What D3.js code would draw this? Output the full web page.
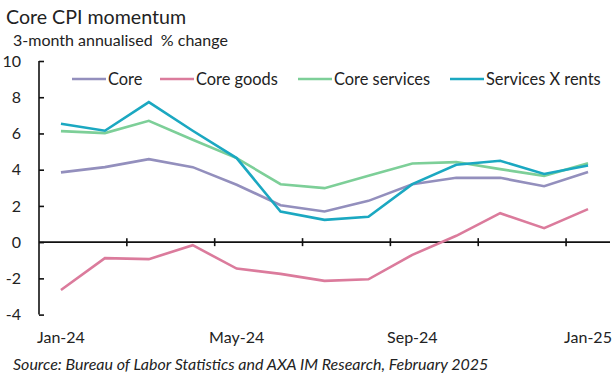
<!DOCTYPE html>
<html>
<head>
<meta charset="utf-8">
<script src="https://cdn.jsdelivr.net/npm/d3@7"></script>
<style>
  body { margin: 0; background: #fff; }
  text { font-family: Lato, "Open Sans", sans-serif; fill: #222; white-space: pre; }
</style>
</head>
<body>
<div id="chart"></div>
<script>
// data
let months = ["Jan-24","Feb-24","Mar-24","Apr-24","May-24","Jun-24","Jul-24","Aug-24","Sep-24","Oct-24","Nov-24","Dec-24","Jan-25"];
let core =         [3.85, 4.14, 4.58, 4.14, 3.17, 2.04, 1.69, 2.28, 3.20, 3.55, 3.55, 3.09, 3.87];
let coreGoods =    [-2.64, -0.88, -0.94, -0.17, -1.46, -1.75, -2.14, -2.05, -0.70, 0.35, 1.60, 0.77, 1.82];
let coreServices = [6.13, 6.02, 6.70, 5.65, 4.64, 3.20, 2.98, 3.66, 4.34, 4.42, 4.03, 3.66, 4.36];
let servXRents =   [6.54, 6.15, 7.73, 6.15, 4.64, 1.69, 1.23, 1.40, 3.20, 4.27, 4.49, 3.76, 4.23];
let seriesNames = ["Core", "Core goods", "Core services", "Services X rents"];
let colors = ["#938fbd", "#db7b9c", "#7dcf98", "#1ba8c1"];
let yTicks = [-4, -2, 0, 2, 4, 6, 8, 10];
let xLabels = ["Jan-24", "May-24", "Sep-24", "Jan-25"];

let width = 615, height = 379;
let margin = { top: 61, right: 5, bottom: 65, left: 39 };

let svg = d3.select("#chart").append("svg")
  .attr("width", width)
  .attr("height", height);

let x = d3.scaleBand().domain(months).range([margin.left, 610]);
let y = d3.scaleLinear().domain([-4, 10]).range([314.6, 61]);

// title
svg.append("text").attr("x", 6).attr("y", 24)
  .style("font-size", "19.6px").text("Core CPI momentum");
svg.append("text").attr("x", 13).attr("y", 46)
  .style("font-size", "16px").text("3-month annualised  % change");

// y axis
let yAxis = svg.append("g")
  .attr("transform", "translate(" + margin.left + ",0)")
  .call(d3.axisRight(y).tickValues(yTicks).tickSize(5).tickFormat(""));
yAxis.select(".domain").attr("d", "M0," + y(-4) + "V" + y(10)).attr("stroke", "#111").attr("stroke-width", 1.6);
yAxis.selectAll(".tick line").attr("stroke", "#111").attr("stroke-width", 1.6);

svg.selectAll(".ylab").data(yTicks).enter().append("text")
  .attr("class", "ylab")
  .attr("x", 21)
  .attr("y", d => y(d))
  .attr("dy", "0.35em")
  .attr("text-anchor", "end")
  .style("font-size", "16px")
  .text(d => d);

// x axis at zero, ticks every two months on band edges
let xg = svg.append("g");
xg.append("line")
  .attr("x1", margin.left).attr("x2", 610)
  .attr("y1", y(0)).attr("y2", y(0))
  .attr("stroke", "#111").attr("stroke-width", 1.6);
xg.selectAll(".xt").data(months.filter((m, i) => i % 2 == 0 && i > 0)).enter().append("line")
  .attr("x1", d => x(d)).attr("x2", d => x(d))
  .attr("y1", y(0) - 4).attr("y2", y(0) + 4)
  .attr("stroke", "#111").attr("stroke-width", 1.6);

svg.selectAll(".xlab").data(xLabels).enter().append("text")
  .attr("x", d => x(d) + x.bandwidth() / 2)
  .attr("y", 343)
  .attr("text-anchor", "middle")
  .style("font-size", "16px")
  .text(d => d);

// lines
let allSeries = [core, coreGoods, coreServices, servXRents];
let line = d3.line()
  .x((d, i) => x(months[i]) + x.bandwidth() / 2)
  .y(d => y(d));

allSeries.forEach((s, k) => {
  svg.append("path")
    .datum(s)
    .attr("fill", "none")
    .attr("stroke", colors[k])
    .attr("stroke-width", 2.6)
    .attr("stroke-linejoin", "miter")
    .attr("d", line);
});

// legend
let legX = [72, 160, 298, 450];
seriesNames.forEach((n, k) => {
  svg.append("line")
    .attr("x1", legX[k]).attr("x2", legX[k] + 34)
    .attr("y1", 79).attr("y2", 79)
    .attr("stroke", colors[k]).attr("stroke-width", 2.6);
  svg.append("text")
    .attr("x", legX[k] + 36).attr("y", 79)
    .attr("dy", "0.35em")
    .style("font-size", "16.4px")
    .text(n);
});

// source
svg.append("text").attr("x", 13).attr("y", 370)
  .style("font-size", "16px").style("font-style", "italic")
  .text("Source: Bureau of Labor Statistics and AXA IM Research, February 2025");
</script>
</body>
</html>
